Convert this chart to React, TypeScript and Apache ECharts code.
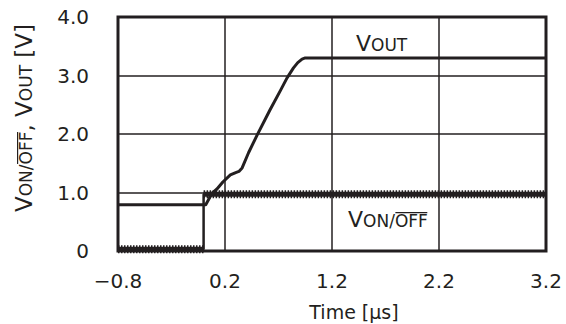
import { useEffect, useRef } from "react";
import * as echarts from "echarts";

// ---- data ----
const timeOut = [-0.8, 0.02, 0.08, 0.125, 0.18, 0.25, 0.3, 0.33, 0.36, 0.42, 0.5, 0.62, 0.72, 0.78, 0.84, 0.88, 0.92, 0.95, 3.2];
const vOut = [0.79, 0.79, 0.99, 1.06, 1.18, 1.3, 1.34, 1.36, 1.42, 1.68, 1.98, 2.41, 2.75, 2.96, 3.13, 3.22, 3.28, 3.3, 3.3];
const timeOnOff = [-0.8, 0.0, 0.0, 3.2];
const vOnOff = [0.03, 0.03, 0.97, 0.97];
const xTickLabels = ["\u22120.8", "0.2", "1.2", "2.2", "3.2"];
const yTickLabels = ["0", "1.0", "2.0", "3.0", "4.0"];
const X_MIN = -0.8;
const X_MAX = 3.2;

const INK = "#231f20";
const FONT = "DejaVu Sans";

type Piece = { text: string; size: number; over?: boolean };

let measureCtx: CanvasRenderingContext2D | null = null;
function measure(text: string, size: number): number {
  if (!measureCtx) measureCtx = document.createElement("canvas").getContext("2d");
  if (!measureCtx) return text.length * size * 0.6;
  measureCtx.font = `${size}px "${FONT}"`;
  return measureCtx.measureText(text).width;
}

function pieceLabel(pieces: Piece[], align: "left" | "center") {
  const widths = pieces.map((p) => measure(p.text, p.size));
  const total = widths.reduce((a, b) => a + b, 0);
  let cx = align === "center" ? -total / 2 : 0;
  const children: any[] = [];
  pieces.forEach((p, i) => {
    children.push({
      type: "text",
      x: cx,
      y: -0.35 * p.size,
      style: {
        text: p.text,
        fontSize: p.size,
        fontFamily: FONT,
        fill: INK,
        align: "left",
        verticalAlign: "middle",
      },
    });
    if (p.over) {
      const yy = -0.73 * p.size - 2;
      children.push({
        type: "line",
        shape: { x1: cx + 0.5, y1: yy, x2: cx + widths[i] - 0.5, y2: yy },
        style: { stroke: INK, lineWidth: 1.2 },
      });
    }
    cx += widths[i];
  });
  return children;
}

export default function App() {
  const ref = useRef<HTMLDivElement>(null);
  useEffect(() => {
    if (!ref.current) return;
    const chart = echarts.init(ref.current, null, { renderer: "svg" });

    const outData = timeOut.map((t, i) => [t, vOut[i]]);
    const stepData = timeOnOff.map((t, i) => [t, vOnOff[i]]);
    const bandData: any[] = [];
    timeOnOff.forEach((t, i) => {
      if (i > 0 && t === timeOnOff[i - 1]) bandData.push([t, "-"]);
      bandData.push([t, vOnOff[i]]);
    });

    const gridLine = { color: INK, width: 1.5 };

    chart.setOption({
      animation: false,
      grid: {
        left: 118,
        right: 20,
        top: 17,
        bottom: 73,
        show: true,
        borderColor: INK,
        borderWidth: 3,
        backgroundColor: "transparent",
      },
      xAxis: [
        { type: "value", min: X_MIN, max: X_MAX, show: false },
        {
          type: "value",
          position: "bottom",
          min: 0,
          max: xTickLabels.length - 1,
          interval: 1,
          axisLine: { show: false },
          axisTick: { show: false },
          splitLine: { show: true, lineStyle: gridLine },
          axisLabel: {
            margin: 20,
            showMinLabel: true,
            showMaxLabel: true,
            fontSize: 20,
            fontFamily: FONT,
            color: INK,
            formatter: (v: number) => xTickLabels[Math.round(v)],
          },
        },
      ],
      yAxis: {
        type: "value",
        min: 0,
        max: yTickLabels.length - 1,
        interval: 1,
        axisLine: { show: false },
        axisTick: { show: false },
        splitLine: { show: true, lineStyle: gridLine },
        axisLabel: {
          margin: 29,
          fontSize: 20,
          fontFamily: FONT,
          color: INK,
          formatter: (v: number) => yTickLabels[Math.round(v)],
        },
      },
      series: [
        {
          type: "line",
          data: stepData,
          symbol: "none",
          clip: false,
          lineStyle: { color: INK, width: 2.5 },
          z: 3,
        },
        {
          type: "line",
          data: bandData,
          symbol: "none",
          clip: false,
          connectNulls: false,
          lineStyle: { color: INK, width: 5 },
          z: 3,
        },
        {
          type: "line",
          data: bandData,
          symbol: "none",
          clip: false,
          connectNulls: false,
          lineStyle: { color: INK, width: 8, type: [1.5, 1.5] },
          z: 3,
        },
        {
          type: "line",
          data: outData,
          symbol: "none",
          lineStyle: { color: INK, width: 3, join: "round" },
          z: 4,
        },
      ],
      graphic: [
        {
          type: "group",
          x: 32,
          y: 118,
          rotation: Math.PI / 2,
          children: pieceLabel(
            [
              { text: "V", size: 23 },
              { text: "ON/", size: 17 },
              { text: "OFF", size: 17, over: true },
              { text: ", V", size: 23 },
              { text: "OUT", size: 17 },
              { text: " [V]", size: 23 },
            ],
            "center"
          ),
        },
        {
          type: "group",
          x: 356,
          y: 51,
          children: pieceLabel(
            [
              { text: "V", size: 22 },
              { text: "OUT", size: 17 },
            ],
            "left"
          ),
        },
        {
          type: "group",
          x: 348,
          y: 227,
          children: pieceLabel(
            [
              { text: "V", size: 22 },
              { text: "ON/", size: 17 },
              { text: "OFF", size: 17, over: true },
            ],
            "left"
          ),
        },
        {
          type: "text",
          x: 354,
          y: 312,
          style: {
            text: "Time [\u00b5s]",
            fontSize: 19,
            fontFamily: FONT,
            fill: INK,
            align: "center",
            verticalAlign: "middle",
          },
        },
      ],
    });
    return () => chart.dispose();
  }, []);
  return (
    <div
      ref={ref}
      style={{ position: "fixed", left: 0, top: 0, width: 566, height: 324, background: "#fff" }}
    />
  );
}
